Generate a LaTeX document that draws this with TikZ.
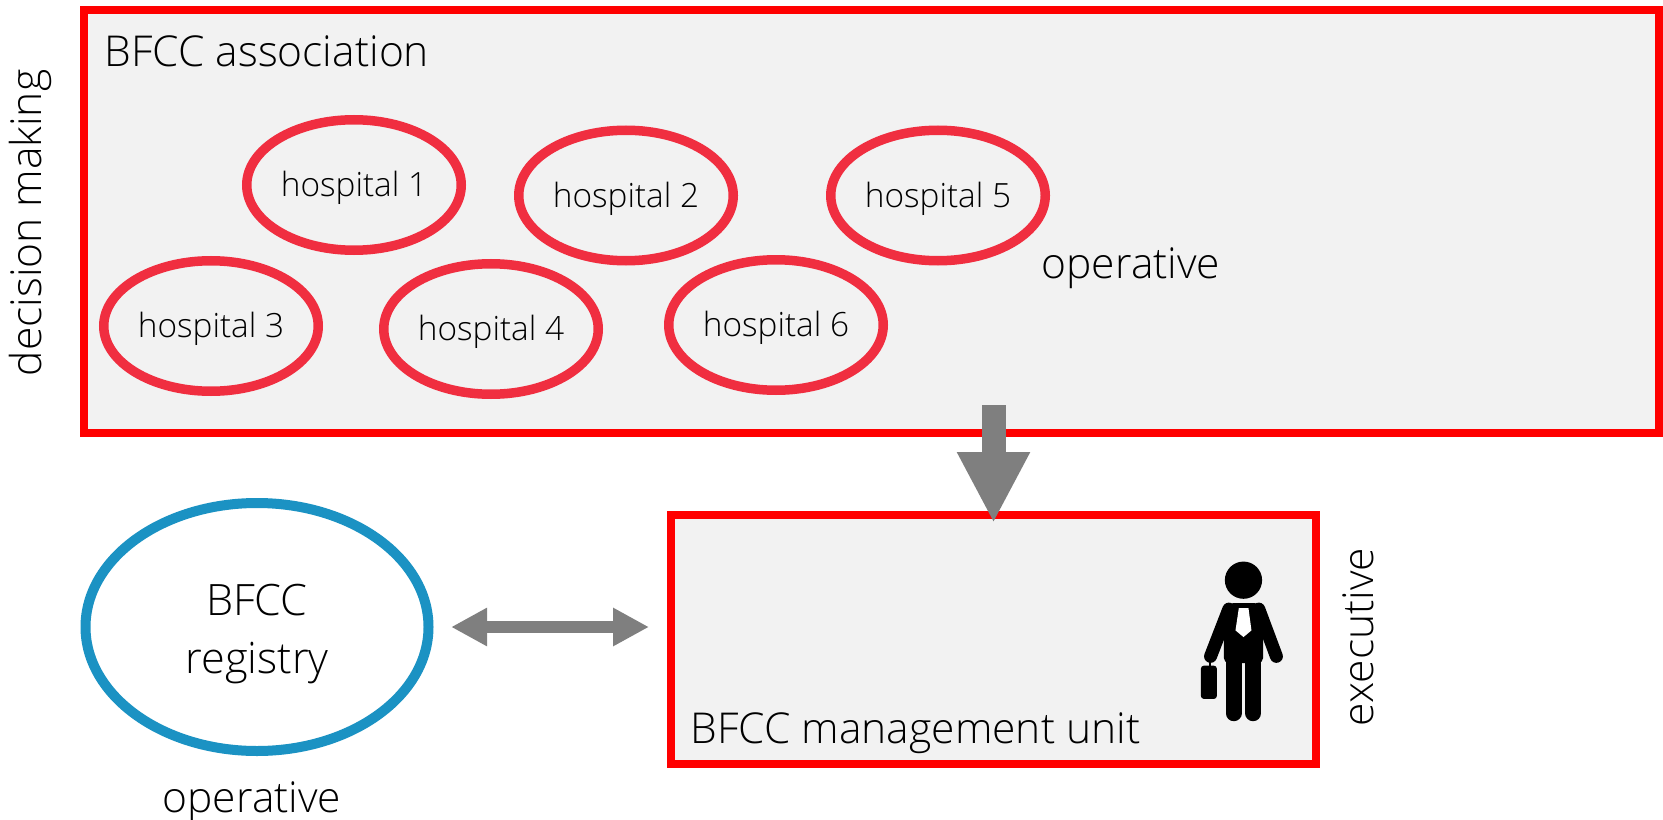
\documentclass[tikz,border=0pt]{standalone}
\usepackage{fontspec}
\setmainfont{Open Sans Light}
\usepackage{tikz}
\usetikzlibrary{arrows.meta,shapes.geometric}
\definecolor{boxred}{RGB}{255,0,0}
\definecolor{boxfill}{RGB}{242,242,242}
\definecolor{hospred}{RGB}{240,46,64}
\definecolor{regblue}{RGB}{27,146,195}
\definecolor{flowgray}{RGB}{127,127,127}
\tikzset{
    unitbox/.style={draw=boxred,fill=boxfill,line width=0.8mm,inner sep=0pt},
    hospital/.style={ellipse,draw=hospred,fill=boxfill,line width=0.95mm,inner sep=0pt,
        minimum width=2.145cm,minimum height=1.305cm,text height=0.31cm,text depth=0.08cm,
        font=\fontsize{9.5}{11}\selectfont},
    registry/.style={ellipse,draw=regblue,fill=white,line width=1mm,inner sep=0pt,
        minimum width=3.43cm,minimum height=2.48cm},
    caption/.style={inner sep=0pt,font=\fontsize{12.1}{14}\selectfont},
    flowdown/.style={draw=flowgray,line width=0.24cm,-{Triangle[length=0.71cm,width=0.68cm]}},
    flowboth/.style={draw=flowgray,line width=0.12cm,{Triangle[length=0.36cm,width=0.36cm]}-{Triangle[length=0.36cm,width=0.36cm]}}
}

\begin{document}
\begin{tikzpicture}
    \useasboundingbox (0,0) rectangle (16.63,-8.2);

    % boxes
    \node[unitbox,minimum width=15.75cm,minimum height=4.23cm] (association) at (8.715,-2.215) {};
    \node[unitbox,minimum width=6.45cm,minimum height=2.49cm] (management) at (9.935,-6.395) {};

    \node[caption,anchor=west] (associationlabel) at (1.04,-0.51) {BFCC association};
    \node[caption,anchor=west] (managementlabel) at (6.9,-7.33) {BFCC management unit};

    % hospitals
    \node[hospital] (hospital1) at (3.54,-1.85) {hospital 1};
    \node[hospital] (hospital2) at (6.26,-1.955) {hospital 2};
    \node[hospital] (hospital3) at (2.11,-3.26) {hospital 3};
    \node[hospital] (hospital4) at (4.91,-3.29) {hospital 4};
    \node[hospital] (hospital5) at (9.38,-1.955) {hospital 5};
    \node[hospital] (hospital6) at (7.76,-3.25) {hospital 6};

    \node[registry] (bfccregistry) at (2.57,-6.27) {};
    \node[caption,align=center,font=\fontsize{12.3}{16.5}\selectfont] (registrylabel) at (2.57,-6.345) {BFCC\\registry};

    % side labels
    \node[caption,rotate=90] (decision) at (0.30,-2.23) {decision making};
    \node[caption] (operative1) at (11.31,-2.68) {operative};
    \node[caption] (operative2) at (2.52,-8.02) {operative};
    \node[caption,rotate=90] (executive) at (13.58,-6.37) {executive};

    % arrows
    \coordinate (flowstart) at (9.935,-4.05);
    \draw[flowdown,shorten >=-0.12cm] (flowstart) -- (management.north);
    \draw[flowboth,shorten <=0.176cm,shorten >=0.18cm] (bfccregistry.east) -- (bfccregistry.east -| management.west);

    % person
    \begin{scope}[shift={(11.5,-5.1)},x=0.003333cm,y=-0.003333cm]
        \fill[black] (281,211) circle[radius=56];
        \fill[black,rounded corners=0.05cm] (222,460) -- (222,330) -- (235,280) -- (330,280) -- (340,330) -- (340,460) -- cycle;
        \draw[black,line width=0.13cm,line cap=round] (237,298) -- (182,440);
        \draw[black,line width=0.13cm,line cap=round] (327,298) -- (380,440);
        \draw[black,line width=0.16cm,line cap=round] (251,450) -- (251,611);
        \draw[black,line width=0.16cm,line cap=round] (310,450) -- (310,611);
        \fill[black,rounded corners=0.03cm] (153,468) rectangle (201,568);
        \draw[black,line width=0.02cm] (180,450) -- (180,470);
        \fill[white] (267,295) -- (296,295) -- (305,362) -- (281,382) -- (257,362) -- cycle;
    \end{scope}
\end{tikzpicture}
\end{document}
